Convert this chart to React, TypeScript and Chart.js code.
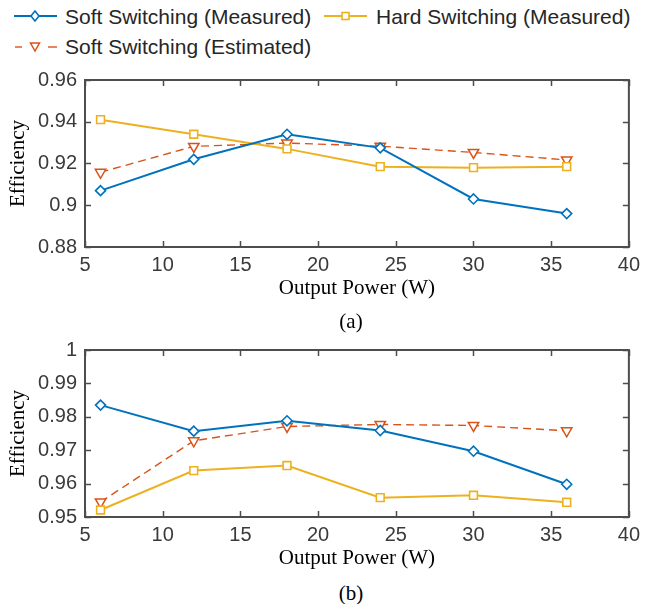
import React, { useEffect, useRef } from "react";
import { Chart, registerables } from "chart.js";
Chart.register(...registerables);

// ---------- data ----------
const power = [6, 12, 18, 24, 30, 36];
const softMeasuredA = [0.907, 0.922, 0.934, 0.9275, 0.903, 0.896];
const hardMeasuredA = [0.941, 0.934, 0.927, 0.9185, 0.918, 0.9185];
const softEstimatedA = [0.9158, 0.9282, 0.9298, 0.9283, 0.9253, 0.9217];
const softMeasuredB = [0.9835, 0.9757, 0.9788, 0.9759, 0.9697, 0.9598];
const hardMeasuredB = [0.9521, 0.9639, 0.9654, 0.9558, 0.9565, 0.9544];
const softEstimatedB = [0.9545, 0.9728, 0.9771, 0.9777, 0.9774, 0.9758];
const xTicks = [5, 10, 15, 20, 25, 30, 35, 40];
const yTicksA = [0.88, 0.9, 0.92, 0.94, 0.96];
const yTicksB = [0.95, 0.96, 0.97, 0.98, 0.99, 1];
const seriesNames = [
  "Soft Switching (Measured)",
  "Hard Switching (Measured)",
  "Soft Switching (Estimated)",
];
const xTitle = "Output Power (W)";
const yTitle = "Efficiency";

const BLUE = "#0072BD";
const YELLOW = "#EDB120";
const RED = "#D95319";
const AXIS = "#4d4d4d";
const TICKTXT = "#3a3a3a";
const SANS = "'Liberation Sans', Arial, Helvetica, sans-serif";
const SERIF = "'Liberation Serif', 'Times New Roman', Times, serif";

const boxPlugin = {
  id: "matlabBox",
  beforeDatasetsDraw(chart: any) {
    const { ctx, chartArea: a, scales } = chart;
    ctx.save();
    ctx.strokeStyle = AXIS;
    ctx.lineWidth = 1.5;
    ctx.beginPath();
    for (const t of scales.x.ticks) {
      const px = Math.round(scales.x.getPixelForValue(t.value)) + 0.5;
      ctx.moveTo(px, a.bottom);
      ctx.lineTo(px, a.bottom - 6);
      ctx.moveTo(px, a.top);
      ctx.lineTo(px, a.top + 6);
    }
    for (const t of scales.y.ticks) {
      const py = Math.round(scales.y.getPixelForValue(t.value)) + 0.5;
      ctx.moveTo(a.left, py);
      ctx.lineTo(a.left + 6, py);
      ctx.moveTo(a.right, py);
      ctx.lineTo(a.right - 6, py);
    }
    ctx.stroke();
    ctx.lineWidth = 2;
    ctx.strokeRect(a.left, a.top, a.right - a.left, a.bottom - a.top);
    ctx.restore();
  },
};

function fmt(v: number) {
  return String(Number(v.toFixed(4)));
}

function Panel(props: {
  soft: number[];
  hard: number[];
  est: number[];
  yTicks: number[];
  padTop: number;
}) {
  const ref = useRef<HTMLCanvasElement | null>(null);
  useEffect(() => {
    if (!ref.current) return;
    const { soft, hard, est, yTicks, padTop } = props;
    const mk = (arr: number[]) => power.map((x, i) => ({ x, y: arr[i] }));
    const chart = new Chart(ref.current, {
      type: "line",
      data: {
        datasets: [
          {
            label: seriesNames[0],
            data: mk(soft),
            borderColor: BLUE,
            borderWidth: 2,
            pointStyle: "rectRot",
            pointRadius: 5,
            pointBorderWidth: 1.6,
            pointBorderColor: BLUE,
            pointBackgroundColor: "#ffffff",
          },
          {
            label: seriesNames[1],
            data: mk(hard),
            borderColor: YELLOW,
            borderWidth: 2,
            pointStyle: "rect",
            pointRadius: 5.5,
            pointBorderWidth: 1.6,
            pointBorderColor: YELLOW,
            pointBackgroundColor: "#ffffff",
          },
          {
            label: seriesNames[2],
            data: mk(est),
            borderColor: RED,
            borderWidth: 1.4,
            borderDash: [8, 5],
            pointStyle: "triangle",
            pointRotation: 180,
            pointRadius: 6,
            pointBorderWidth: 1.5,
            pointBorderColor: RED,
            pointBackgroundColor: "#ffffff",
          },
        ],
      },
      options: {
        animation: false,
        responsive: false,
        devicePixelRatio: 1,
        layout: { padding: { top: padTop, right: 16, left: 2, bottom: 5 } },
        plugins: { legend: { display: false }, tooltip: { enabled: false } },
        scales: {
          x: {
            type: "linear",
            min: 5,
            max: 40,
            grid: { display: false, drawTicks: false },
            border: { display: false },
            afterBuildTicks: (s: any) => {
              s.ticks = xTicks.map((v) => ({ value: v }));
            },
            afterFit: (s: any) => {
              s.height = 58;
            },
            ticks: {
              color: TICKTXT,
              font: { family: SANS, size: 20 },
              padding: 6,
              maxRotation: 0,
              callback: (v: any) => fmt(Number(v)),
            },
            title: {
              display: true,
              text: xTitle,
              color: "#000",
              font: { family: SERIF, size: 21 },
            },
          },
          y: {
            type: "linear",
            min: yTicks[0],
            max: yTicks[yTicks.length - 1],
            grid: { display: false, drawTicks: false },
            border: { display: false },
            afterBuildTicks: (s: any) => {
              s.ticks = yTicks.map((v) => ({ value: v }));
            },
            afterFit: (s: any) => {
              s.width = 83;
            },
            ticks: {
              color: TICKTXT,
              font: { family: SANS, size: 20 },
              padding: 8,
              callback: (v: any) => fmt(Number(v)),
            },
            title: {
              display: true,
              text: yTitle,
              color: "#000",
              font: { family: SERIF, size: 21 },
            },
          },
        },
      },
      plugins: [boxPlugin],
    } as any);
    return () => chart.destroy();
  }, []);
  return (
    <canvas
      ref={ref}
      width={646}
      height={250}
      style={{ width: 646, height: 250, display: "block" }}
    />
  );
}

function LegendIcon(props: { kind: number; left: number; cy: number }) {
  const { kind, left, cy } = props;
  return (
    <svg
      width={44}
      height={20}
      style={{ position: "absolute", left, top: cy - 10, overflow: "visible" }}
    >
      {kind === 0 && (
        <g>
          <line x1={0} y1={10} x2={43} y2={10} stroke={BLUE} strokeWidth={2} />
          <polygon points="21,5 25,10 21,15 17,10" fill="#fff" stroke={BLUE} strokeWidth={1.6} />
        </g>
      )}
      {kind === 1 && (
        <g>
          <line x1={0} y1={10} x2={43} y2={10} stroke={YELLOW} strokeWidth={2} />
          <rect x={18} y={6.5} width={7} height={7} fill="#fff" stroke={YELLOW} strokeWidth={1.6} />
        </g>
      )}
      {kind === 2 && (
        <g>
          <line x1={1} y1={10} x2={8} y2={10} stroke={RED} strokeWidth={1.4} />
          <line x1={34} y1={10} x2={43} y2={10} stroke={RED} strokeWidth={1.4} />
          <polygon points="16.5,6 25.5,6 21,14" fill="#fff" stroke={RED} strokeWidth={1.5} />
        </g>
      )}
    </svg>
  );
}

function LegendItem(props: { kind: number; iconLeft: number; textLeft: number; top: number; cy: number }) {
  const { kind, iconLeft, textLeft, top, cy } = props;
  return (
    <>
      <LegendIcon kind={kind} left={iconLeft} cy={cy} />
      <span
        style={{
          position: "absolute",
          left: textLeft,
          top,
          fontFamily: SANS,
          fontSize: 21,
          lineHeight: "24px",
          whiteSpace: "nowrap",
          color: "#262626",
        }}
      >
        {seriesNames[kind]}
      </span>
    </>
  );
}

export default function App() {
  const cap: React.CSSProperties = {
    position: "absolute",
    left: 301,
    width: 100,
    textAlign: "center",
    fontFamily: SERIF,
    fontSize: 21,
    lineHeight: "24px",
    color: "#000",
  };
  return (
    <div
      style={{
        position: "fixed",
        left: 0,
        top: 0,
        width: 646,
        height: 604,
        background: "#fff",
        overflow: "hidden",
      }}
    >
      <LegendItem kind={0} iconLeft={14} textLeft={65} top={5} cy={16} />
      <LegendItem kind={1} iconLeft={324} textLeft={376} top={5} cy={16} />
      <LegendItem kind={2} iconLeft={14} textLeft={65} top={35} cy={47} />
      <div style={{ position: "absolute", left: 0, top: 60 }}>
        <Panel soft={softMeasuredA} hard={hardMeasuredA} est={softEstimatedA} yTicks={yTicksA} padTop={16} />
      </div>
      <div style={{ ...cap, top: 309 }}>(a)</div>
      <div style={{ position: "absolute", left: 0, top: 330 }}>
        <Panel soft={softMeasuredB} hard={hardMeasuredB} est={softEstimatedB} yTicks={yTicksB} padTop={15} />
      </div>
      <div style={{ ...cap, top: 581 }}>(b)</div>
    </div>
  );
}
